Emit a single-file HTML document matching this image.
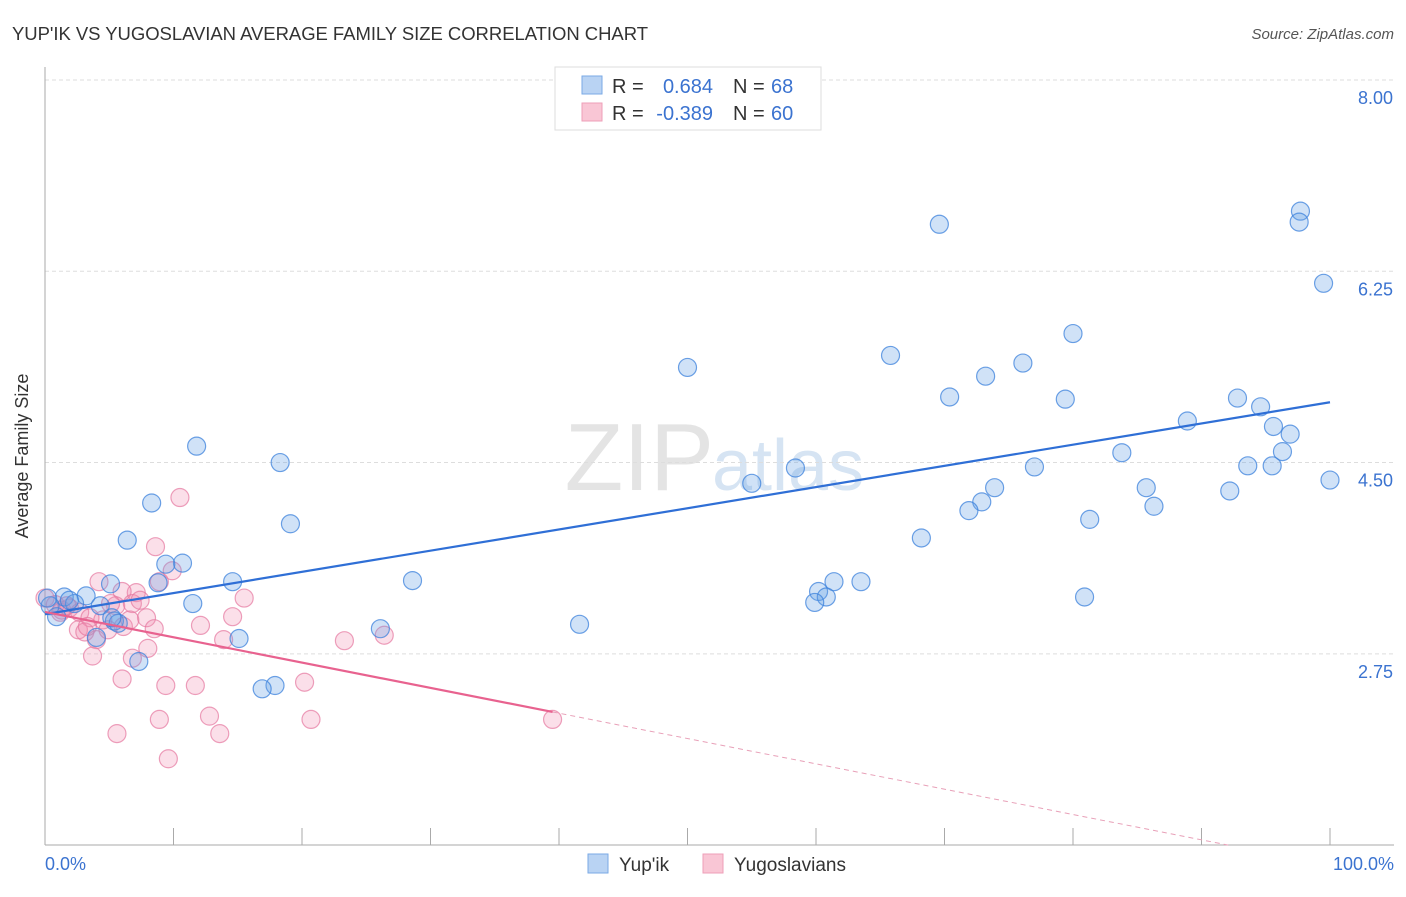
<!DOCTYPE html>
<html><head><meta charset="utf-8"><style>
body{margin:0;background:#fff;font-family:"Liberation Sans",sans-serif}
svg text{font-family:"Liberation Sans",sans-serif}
</style></head><body>
<svg id="chart" width="1406" height="892" viewBox="0 0 1406 892" xmlns="http://www.w3.org/2000/svg">
<text x="12" y="40" font-size="18.5" fill="#333" textLength="636">YUP'IK VS YUGOSLAVIAN AVERAGE FAMILY SIZE CORRELATION CHART</text>
<text x="1394" y="39" font-size="15" fill="#555" font-style="italic" text-anchor="end">Source: ZipAtlas.com</text>
<text x="714" y="490" font-size="96" fill="#e4e4e4" font-family="Liberation Serif" text-anchor="end">ZIP</text>
<text x="712" y="490" font-size="72" fill="#d6e4f3">atlas</text>
<g id="grid"></g>
<g id="axes"></g>
<g id="pts"></g>
<g id="trend"></g>
<text x="28" y="456" font-size="18" fill="#333" text-anchor="middle" transform="rotate(-90 28 456)">Average Family Size</text>
<text x="45" y="870" font-size="18" fill="#3b73d0">0.0%</text>
<text x="1394" y="870" font-size="18" fill="#3b73d0" text-anchor="end">100.0%</text>
<g>
<rect x="555" y="67" width="266" height="63" fill="#fff" stroke="#ddd"/>
<rect x="582" y="76" width="20" height="18" fill="#b9d3f3" stroke="#7aa9e6"/>
<rect x="582" y="103" width="20" height="18" fill="#f9c6d5" stroke="#ee9fb8"/>
<text x="612" y="93" font-size="20" fill="#333">R =</text>
<text x="713" y="93" font-size="20" fill="#3b73d0" text-anchor="end">0.684</text>
<text x="733" y="93" font-size="20" fill="#333">N =</text>
<text x="771" y="93" font-size="20" fill="#3b73d0">68</text>
<text x="612" y="120" font-size="20" fill="#333">R =</text>
<text x="713" y="120" font-size="20" fill="#3b73d0" text-anchor="end">-0.389</text>
<text x="733" y="120" font-size="20" fill="#333">N =</text>
<text x="771" y="120" font-size="20" fill="#3b73d0">60</text>
</g>
<g><rect x="588" y="854" width="20" height="19" fill="#b9d3f3" stroke="#7aa9e6"/><text x="619" y="871" font-size="19" fill="#333">Yup'ik</text></g>
<g><rect x="703" y="854" width="20" height="19" fill="#f9c6d5" stroke="#ee9fb8"/><text x="734" y="871" font-size="19" fill="#333">Yugoslavians</text></g>
</svg>
<script>
const yTicks=[8.00,6.25,4.50,2.75];
const xTickPcts=[0,10,20,30,40,50,60,70,80,90,100];
const blueX=[97.7,97.6,69.6,99.5,80.0,65.8,76.1,50.0,73.2,70.4,79.4,92.8,94.6,88.9,95.6,96.9,11.8,83.8,96.3,18.3,93.6,77.0,58.4,95.5,100,55.0,73.9,85.7,92.2,8.3,72.9,86.3,71.9,19.1,81.3,68.2,6.4,10.7,9.4,14.6,28.6,63.5,61.4,8.8,5.1,60.2,60.8,80.9,59.9,1.5,3.2,2.3,11.5,4.3,0.4,0.9,5.4,5.7,41.6,26.1,4.0,15.1,7.3,17.9,16.9,0.2,1.9,5.2];
const blueY=[6.80,6.70,6.68,6.14,5.68,5.48,5.41,5.37,5.29,5.10,5.08,5.09,5.01,4.88,4.83,4.76,4.65,4.59,4.60,4.50,4.47,4.46,4.45,4.47,4.34,4.31,4.27,4.27,4.24,4.13,4.14,4.10,4.06,3.94,3.98,3.81,3.79,3.58,3.57,3.41,3.42,3.41,3.41,3.40,3.39,3.32,3.27,3.27,3.22,3.27,3.28,3.21,3.21,3.19,3.19,3.09,3.05,3.03,3.02,2.98,2.90,2.89,2.68,2.46,2.43,3.26,3.24,3.08];
const pinkX=[10.5,8.6,9.9,4.2,8.9,7.1,6.0,5.5,6.8,7.4,15.5,14.6,5.1,0,0.8,1.3,1.9,2.7,3.5,4.5,2.6,3.1,4.0,3.7,6.1,7.9,8.5,12.1,13.9,23.3,26.4,6.8,8.0,6.0,9.4,11.7,20.2,8.9,12.8,20.7,39.5,5.6,13.6,9.6,1.2,1.7,3.3,4.9,6.6];
const pinkY=[4.18,3.73,3.51,3.41,3.41,3.31,3.32,3.19,3.21,3.24,3.26,3.09,3.21,3.26,3.20,3.15,3.17,3.13,3.08,3.06,2.97,2.95,2.88,2.73,3.00,3.08,2.98,3.01,2.88,2.87,2.92,2.71,2.80,2.52,2.46,2.46,2.49,2.15,2.18,2.15,2.15,2.02,2.02,1.79,3.13,3.19,3.00,2.97,3.06];
const NS='http://www.w3.org/2000/svg';
const X0=45,X1=1330,Y8=80,PXU=109.3;
function sx(p){return X0+(X1-X0)*p/100;}
function sy(v){return Y8+(8-v)*PXU;}
function mk(t,a,parent){const e=document.createElementNS(NS,t);for(const k in a)e.setAttribute(k,a[k]);document.getElementById(parent).appendChild(e);return e;}
yTicks.forEach(v=>{
  const g=mk('line',{x1:45,x2:1394,y1:sy(v),y2:sy(v),stroke:'#ddd','stroke-dasharray':'4 3'},'grid');
  
  
  const t=mk('text',{x:1393,y:sy(v)+24,'font-size':18,fill:'#3b73d0','text-anchor':'end'},'grid');
  t.textContent=v.toFixed(2);
  
  
});
const ax=mk('line',{x1:45,x2:45,y1:67,y2:845,stroke:'#aaa'},'axes');


const bx=mk('line',{x1:45,x2:1394,y1:845,y2:845,stroke:'#aaa'},'axes');


xTickPcts.forEach(p=>{
  const t=mk('line',{x1:sx(p),x2:sx(p),y1:828,y2:845,stroke:'#aaa'},'axes');
  
  
});
function pts(xs,ys,fill,stroke,name){
  xs.forEach((x,i)=>{
    const c=mk('circle',{cx:sx(x),cy:sy(ys[i]),r:9,fill:fill,stroke:stroke,'stroke-width':1.2},'pts');
    
    
  });
}
pts(pinkX,pinkY,'rgba(240,140,175,0.28)','rgba(230,120,160,0.7)','yugoslavian-point');
pts(blueX,blueY,'rgba(100,160,230,0.3)','rgba(60,130,220,0.75)','yupik-point');
function fit(xs,ys){const n=xs.length;let mx=0,my=0;for(let i=0;i<n;i++){mx+=xs[i];my+=ys[i];}mx/=n;my/=n;let sxy=0,sxx=0;for(let i=0;i<n;i++){sxy+=(xs[i]-mx)*(ys[i]-my);sxx+=(xs[i]-mx)**2;}const b=sxy/sxx;return [my-b*mx,b];}
const [ba,bb]=fit(blueX,blueY);
const bl=mk('line',{x1:sx(0),y1:sy(ba),x2:sx(100),y2:sy(ba+bb*100),stroke:'#2f6fd6','stroke-width':2.2},'trend');


const [pa,pb]=fit(pinkX,pinkY);
const pmax=Math.max(...pinkX);
const pl=mk('line',{x1:sx(0),y1:sy(pa),x2:sx(pmax),y2:sy(pa+pb*pmax),stroke:'#e8628f','stroke-width':2.2},'trend');


let xe=100;const ve=pa+pb*100;if(ve<1){xe=(1-pa)/pb;}
const pd=mk('line',{x1:sx(pmax),y1:sy(pa+pb*pmax),x2:sx(xe),y2:sy(pa+pb*xe),stroke:'#e8a0b8','stroke-width':1,'stroke-dasharray':'5 4'},'trend');


</script>
</body></html>
